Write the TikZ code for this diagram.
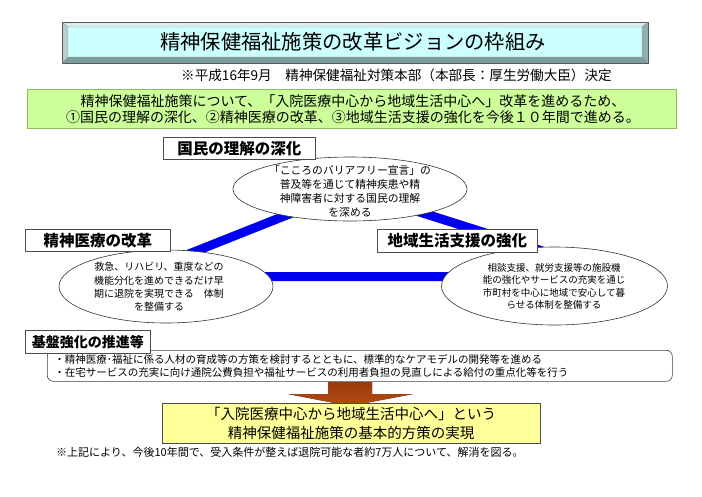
\documentclass[tikz,border=0pt]{standalone}
\usepackage{fontspec}
\setmainfont{Noto Sans CJK JP}
\usetikzlibrary{shapes.geometric}
\definecolor{titleface}{HTML}{CCFFFF}
\definecolor{bevtop}{HTML}{DCEBEB}
\definecolor{bevleft}{HTML}{B5CFCF}
\definecolor{bevbot}{HTML}{7A9E9E}
\definecolor{bevright}{HTML}{8FB0B0}
\definecolor{greenfill}{HTML}{CCFF99}
\definecolor{greenline}{HTML}{8CBF5A}
\definecolor{yellowfill}{HTML}{FFFF99}
\definecolor{arrowtop}{HTML}{9A3A0A}
\definecolor{arrowbot}{HTML}{B24C16}
\definecolor{tblue}{HTML}{0000F0}
\tikzset{
  hdr/.style={draw=black!70, fill=white, line width=0.6pt, font=\bfseries\fontsize{15.5}{17}\selectfont, inner sep=0pt, anchor=north west},
  ell/.style={ellipse, draw=black!80, fill=white, line width=0.6pt, inner sep=0pt},
  etext/.style={align=center, inner sep=0pt},
  blueline/.style={draw=tblue, line width=9pt, line join=miter},
}
\begin{document}
\begin{tikzpicture}[x=1pt,y=-1pt]
\useasboundingbox[fill=white] (0,0) rectangle (702,496);

% title bevel box
\coordinate (tA) at (62,22);
\coordinate (tB) at (648,63);
\fill[bevtop] (62,22) -- (648,22) -- (642,27) -- (68,27) -- cycle;
\fill[bevleft] (62,22) -- (68,27) -- (68,57) -- (62,63) -- cycle;
\fill[bevbot] (62,63) -- (68,57) -- (642,57) -- (648,63) -- cycle;
\fill[bevright] (648,22) -- (648,63) -- (642,57) -- (642,27) -- cycle;
\fill[titleface] (68,27) rectangle (642,57);
\draw[black!65, line width=0.6pt] (tA) rectangle (tB);
\draw[black!40, line width=0.4pt] (62,22) -- (68,27) (648,22) -- (642,27) (62,63) -- (68,57) (648,63) -- (642,57) (68,27) rectangle (642,57);
\node[font=\fontsize{20.3}{22}\selectfont, inner sep=0pt] (title) at (353,42) {精神保健福祉施策の改革ビジョンの枠組み};

\node[font=\fontsize{13.6}{15}\selectfont, anchor=east, inner sep=0pt] (sub) at (612,75) {※平成16年9月　精神保健福祉対策本部（本部長：厚生労働大臣）決定};

% green box
\node[draw=greenline, fill=greenfill, line width=1pt, anchor=north west, minimum width=649pt, minimum height=39pt, inner sep=0pt] (green) at (27,89) {};
\node[font=\fontsize{14}{16}\selectfont, align=center, inner sep=0pt] (greentext) at (353,109.5) {精神保健福祉施策について、「入院医療中心から地域生活中心へ」改革を進めるため、\\①国民の理解の深化、②精神医療の改革、③地域生活支援の強化を今後１０年間で進める。};

% triangle of blue lines
\coordinate (vTop) at (350,190);
\coordinate (vLeft) at (132,276.5);
\coordinate (vRight) at (623,276.5);
\draw[blueline] (vTop) -- (vLeft) -- (vRight) -- cycle;

% ellipses
\node[ell, minimum width=234pt, minimum height=64pt] (e1) at (350,189) {};
\node[etext, font=\fontsize{10.8}{14}\selectfont] (e1t) at (350,191) {「こころのバリアフリー宣言」の\\普及等を通じて精神疾患や精\\神障害者に対する国民の理解\\を深める};

\node[ell, minimum width=214pt, minimum height=73pt] (e2) at (166,286.5) {};
\node[etext, font=\fontsize{10}{13.3}\selectfont] (e2t) at (159,287) {救急、リハビリ、重度などの\\機能分化を進めできるだけ早\\期に退院を実現できる　体制\\を整備する};

\node[ell, minimum width=226pt, minimum height=78pt] (e3) at (554.5,286) {};
\node[etext, font=\fontsize{9.5}{12.4}\selectfont] (e3t) at (554,286.5) {相談支援、就労支援等の施設機\\能の強化やサービスの充実を通じ\\市町村を中心に地域で安心して暮\\らせる体制を整備する};

% headers
\node[hdr, minimum width=152pt, minimum height=22pt] (h1) at (163,137) {国民の理解の深化};
\node[hdr, minimum width=145pt, minimum height=22pt] (h2) at (25,229) {精神医療の改革};
\node[hdr, minimum width=160pt, minimum height=23pt] (h3) at (377,229) {地域生活支援の強化};

% base box
\node[draw=black!75, fill=white, line width=0.6pt, rounded corners=6pt, anchor=north west, minimum width=625pt, minimum height=31pt, text width=611pt, inner xsep=7pt, inner ysep=0pt, align=left, font=\fontsize{10.5}{13}\selectfont] (base) at (47,350) {・精神医療･福祉に係る人材の育成等の方策を検討するとともに、標準的なケアモデルの開発等を進める\\・在宅サービスの充実に向け通院公費負担や福祉サービスの利用者負担の見直しによる給付の重点化等を行う};
\node[hdr, minimum width=125pt, minimum height=23pt, font=\bfseries\fontsize{14}{16}\selectfont] (h4) at (25,330) {基盤強化の推進等};

% arrow
\fill[top color=arrowtop, bottom color=arrowbot] (328,382) -- (372,382) -- (372,394) -- (413,394) -- (350,406) -- (288,394) -- (328,394) -- cycle;

% result box
\node[draw=black!70, fill=yellowfill, line width=0.7pt, anchor=north west, minimum width=378pt, minimum height=40pt, inner sep=0pt] (res) at (162,403) {};
\node[font=\fontsize{14.5}{19}\selectfont, align=center, inner sep=0pt] (rest) at (351,423) {「入院医療中心から地域生活中心へ」という\\精神保健福祉施策の基本的方策の実現};

\node[font=\fontsize{11}{13}\selectfont, anchor=west, inner sep=0pt] (foot) at (56,452) {※上記により、今後10年間で、受入条件が整えば退院可能な者約7万人について、解消を図る。};
\end{tikzpicture}
\end{document}
